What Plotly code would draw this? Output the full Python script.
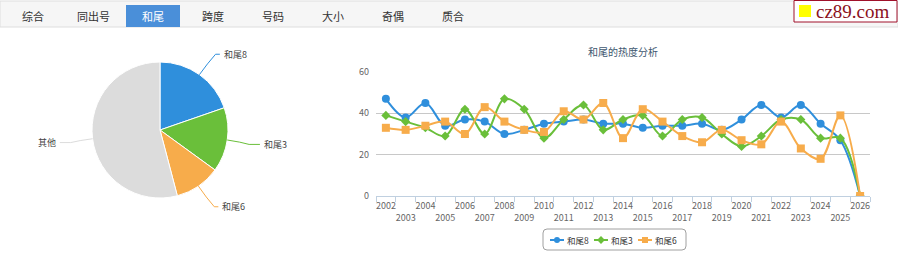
import math
import plotly.graph_objects as go

W, H = 898, 263

tabs = ["综合", "同出号", "和尾", "跨度", "号码", "大小", "奇偶", "质合"]
active_tab = "和尾"

pie_labels = ["和尾8", "和尾3", "和尾6", "其他"]
pie_values = [19.7, 15.3, 10.9, 54.1]
pie_colors = ["#2f8fdc", "#6abf3a", "#f7ac4b", "#dcdcdc"]

years = [str(y) for y in range(2002, 2027)]
s8 = [47, 38, 45, 34, 37, 36, 30, 32, 35, 36, 37, 35, 35, 33, 34, 34, 35, 32, 37, 44, 38, 44, 35, 27, 0]
s3 = [39, 36, 33, 29, 42, 30, 47, 42, 28, 37, 44, 32, 37, 39, 29, 37, 38, 30, 24, 29, 37, 37, 28, 28, 0]
s6 = [33, 32, 34, 36, 30, 43, 36, 32, 31, 41, 37, 45, 28, 42, 36, 29, 26, 32, 27, 25, 36, 23, 18, 39, 0]
series_names = ["和尾8", "和尾3", "和尾6"]
line_colors = ["#2f8fdc", "#6abf3a", "#f7ac4b"]
symbols = ["circle", "diamond", "square"]
yticks = [0, 20, 40, 60]
title = "和尾的热度分析"


def px(x):
    return x / W


def py(y):
    return 1 - y / H


fig = go.Figure()

# pie
cx, cy, r = 160, 130, 68
fig.add_trace(go.Pie(
    labels=pie_labels, values=pie_values, sort=False, direction="clockwise",
    rotation=0, marker=dict(colors=pie_colors, line=dict(color="white", width=1)),
    textinfo="none", hoverinfo="label+percent", showlegend=False,
    domain=dict(x=[px(cx - r), px(cx + r)], y=[py(cy + r), py(cy - r)]),
))

shapes = []
annotations = []

# pie labels with connectors, computed from values
total = sum(pie_values)
acc = 0
for lab, val, col in zip(pie_labels, pie_values, pie_colors):
    mid = (acc + val / 2) / total * 2 * math.pi
    acc += val
    sx, sy = math.sin(mid), -math.cos(mid)
    ex, ey = cx + r * sx, cy + r * sy
    lx, ly = cx + (r + 30) * sx, cy + (r + 30) * sy
    ly = ly - 5 * sy if abs(sy) > 0.3 else ly + 0
    right = sx >= 0
    qx, qy = cx + (r + 14) * sx, cy + (r + 14) * sy
    endx = lx + (3 if right else -3)
    path = f"M {px(ex)} {py(ey)} Q {px(qx)} {py(qy)} {px(qx + (8 if right else -8))} {py(ly)} L {px(endx)} {py(ly)}"
    shapes.append(dict(type="path", xref="paper", yref="paper", path=path,
                       line=dict(color=col, width=1)))
    annotations.append(dict(
        x=px(endx + (2 if right else -2)), y=py(ly), xref="paper", yref="paper",
        text=lab, showarrow=False, xanchor="left" if right else "right",
        yanchor="middle", font=dict(size=9, color="#444")))

# line chart
xi = list(range(len(years)))
for name, vals, col, sym in zip(series_names, [s8, s3, s6], line_colors, symbols):
    fig.add_trace(go.Scatter(
        x=xi, y=vals, name=name, mode="lines+markers",
        line=dict(color=col, width=2, shape="spline", smoothing=1.0),
        marker=dict(symbol=sym, size=8 if sym != "diamond" else 7, color=col),
        xaxis="x", yaxis="y", showlegend=False,
    ))

# custom compact legend (separate full-page axis in pixel units)
leg_x0, leg_y = 550, 240
item_w = 44
bx = leg_x0
for name, col, sym in zip(series_names, line_colors, symbols):
    fig.add_trace(go.Scatter(
        x=[bx, bx + 7, bx + 14], y=[leg_y] * 3, mode="lines",
        line=dict(color=col, width=2), xaxis="x2", yaxis="y2",
        showlegend=False, hoverinfo="skip"))
    fig.add_trace(go.Scatter(
        x=[bx + 7], y=[leg_y], mode="markers",
        marker=dict(symbol=sym, size=6, color=col), xaxis="x2", yaxis="y2",
        showlegend=False, hoverinfo="skip"))
    annotations.append(dict(x=px(bx + 15), y=py(leg_y), xref="paper", yref="paper", text=name,
                            showarrow=False, xanchor="left", yanchor="middle",
                            font=dict(size=8.5, color="#333")))
    bx += item_w

lx0, lx1, ly0, ly1, rr = 543, 686, 229, 250, 4


def P(x, y):
    return f"{px(x)} {py(y)}"


shapes.append(dict(
    type="path", xref="paper", yref="paper",
    path=(f"M {P(lx0 + rr, ly0)} L {P(lx1 - rr, ly0)} Q {P(lx1, ly0)} {P(lx1, ly0 + rr)} "
          f"L {P(lx1, ly1 - rr)} Q {P(lx1, ly1)} {P(lx1 - rr, ly1)} L {P(lx0 + rr, ly1)} "
          f"Q {P(lx0, ly1)} {P(lx0, ly1 - rr)} L {P(lx0, ly0 + rr)} Q {P(lx0, ly0)} {P(lx0 + rr, ly0)} Z"),
    line=dict(color="#a0a0a0", width=1)))

ticktext = [y if i % 2 == 0 else "<br>" + y for i, y in enumerate(years)]

x0, x1 = 376, 870
y_top, y_bot = 72, 196
fig.update_layout(
    width=W, height=H,
    margin=dict(l=0, r=0, t=0, b=0),
    paper_bgcolor="white", plot_bgcolor="rgba(0,0,0,0)",
    font=dict(family="Noto Sans CJK SC, Noto Sans, sans-serif", color="#666"),
    xaxis=dict(domain=[px(x0), px(x1)], range=[-0.5, len(years) - 0.5],
               tickvals=xi, ticktext=ticktext, ticks="", showgrid=False,
               tickangle=0, automargin=False,
               showline=True, linecolor="#c0d0e0", linewidth=1, zeroline=False,
               tickfont=dict(size=9, color="#666"), ticklabelstandoff=1,
               minor=dict(tick0=-0.5, dtick=1, ticks="outside", ticklen=5,
                          tickcolor="#c0d0e0", showgrid=False),
               fixedrange=True),
    yaxis=dict(domain=[py(y_bot), py(y_top)], range=[0, 60], tickvals=yticks,
               showgrid=True, gridcolor="#c8c8c8", gridwidth=1, zeroline=False,
               automargin=False,
               showline=False, tickfont=dict(size=9, color="#666"), ticks="",
               ticklabelstandoff=6, fixedrange=True),
    xaxis2=dict(domain=[0, 1], range=[0, W], visible=False, fixedrange=True,
                anchor="y2", automargin=False),
    yaxis2=dict(domain=[0, 1], range=[H, 0], visible=False, fixedrange=True,
                anchor="x2", automargin=False),
    showlegend=False,
)

annotations.append(dict(x=px((x0 + x1) / 2), y=py(51), xref="paper", yref="paper",
                        text=title, showarrow=False, xanchor="center", yanchor="middle",
                        font=dict(size=10, color="#3e576f")))

# tab bar
shapes.append(dict(type="rect", xref="paper", yref="paper", x0=0, x1=1,
                   y0=py(27), y1=py(1), fillcolor="#f6f6f6",
                   line=dict(color="#dedede", width=1), layer="below"))
for i, t in enumerate(tabs):
    cxt = 33 + 60 * i
    if t == active_tab:
        shapes.append(dict(type="rect", xref="paper", yref="paper",
                           x0=px(cxt - 27), x1=px(cxt + 27), y0=py(27), y1=py(5),
                           fillcolor="#4a8fd9", line=dict(width=0)))
    annotations.append(dict(x=px(cxt), y=py(15.5), xref="paper", yref="paper", text=t,
                            showarrow=False, xanchor="center", yanchor="middle",
                            font=dict(size=11, color="white" if t == active_tab else "#333")))

# logo
shapes.append(dict(type="rect", xref="paper", yref="paper", x0=px(794), x1=px(897),
                   y0=py(22), y1=py(0.5), fillcolor="white",
                   line=dict(color="#a0102a", width=1)))
shapes.append(dict(type="rect", xref="paper", yref="paper", x0=px(799), x1=px(811),
                   y0=py(17), y1=py(5), fillcolor="#ffff00", line=dict(width=0)))
annotations.append(dict(x=px(853), y=py(11.5), xref="paper", yref="paper", text="cz89.com",
                        showarrow=False, xanchor="center", yanchor="middle",
                        font=dict(size=19, color="#8b1020",
                                  family="Liberation Serif, DejaVu Serif, serif")))

fig.update_layout(shapes=shapes, annotations=annotations)
fig.write_html("out.html")
